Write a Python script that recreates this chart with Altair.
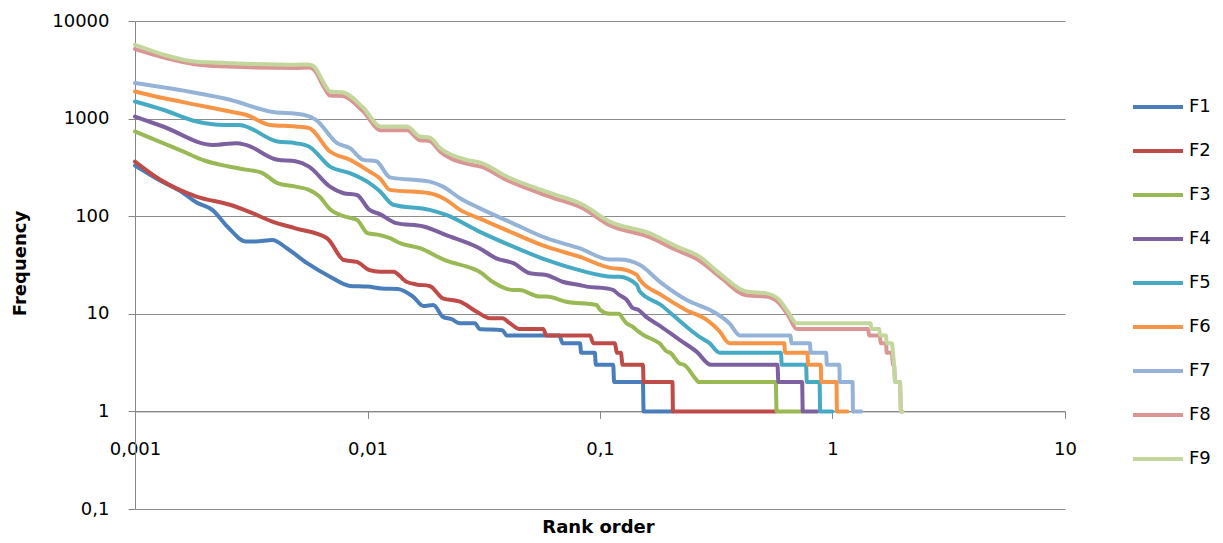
import altair as alt
import pandas as pd

series_names = ["F1", "F2", "F3", "F4", "F5", "F6", "F7", "F8", "F9"]
colors = ["#4A7EBB", "#BE4B48", "#98B954", "#7D60A0", "#46AAC5", "#F69546", "#95B3D7", "#D99694", "#C3D69B"]

f1_x = [0.001, 0.00128, 0.0016, 0.00184, 0.00215, 0.0025, 0.003, 0.0033, 0.0039, 0.0045, 0.0055, 0.0069, 0.0084, 0.01,
        0.0115, 0.0135, 0.0157, 0.0174, 0.0192, 0.0211, 0.023, 0.025, 0.029, 0.0303, 0.038, 0.0397, 0.0668, 0.0691,
        0.082, 0.083, 0.095, 0.096, 0.114, 0.115, 0.153, 0.154, 0.205]
f1_y = [330, 232, 175, 138, 116, 78, 55, 55, 57, 47, 33, 24, 19.3, 19,
        18.2, 18, 15, 12, 12.3, 9.3, 8.8, 8, 8, 7, 6.8, 6, 6, 5,
        5, 4, 4, 3, 3, 2, 2, 1, 1]

f2_x = [0.001, 0.00128, 0.00184, 0.00256, 0.0031, 0.0039, 0.0049, 0.0067, 0.0079, 0.009, 0.0102, 0.0113, 0.0129,
        0.0147, 0.0162, 0.0185, 0.0211, 0.025, 0.0295, 0.0336, 0.038, 0.041, 0.045, 0.057, 0.0588, 0.0906, 0.0936,
        0.116, 0.118, 0.123, 0.125, 0.153, 0.154, 0.205, 0.206, 0.57]
f2_y = [363, 238, 159, 131, 111, 88, 75, 59.5, 35.6, 34, 28, 27, 27,
        21.3, 20, 19.3, 14.4, 13.3, 10.5, 9, 9, 8, 7, 7, 6, 6, 5,
        5, 4, 4, 3, 3, 2, 2, 1, 1]

f3_x = [0.001, 0.00132, 0.00158, 0.002, 0.0025, 0.003, 0.0035, 0.0041, 0.0049, 0.0056, 0.0062, 0.0069, 0.0084, 0.009,
        0.01, 0.0113, 0.0125, 0.0138, 0.0168, 0.0218, 0.0284, 0.0303, 0.0345, 0.0424, 0.045, 0.055, 0.0588, 0.0715,
        0.0967, 0.1, 0.11, 0.121, 0.125, 0.13, 0.138, 0.146, 0.155, 0.17, 0.18, 0.194, 0.2, 0.22, 0.23, 0.26, 0.265,
        0.57, 0.575, 0.74]
f3_y = [738, 560, 470, 370, 325, 300, 280, 218, 201, 186, 160, 118, 96, 92,
        67, 64, 59.5, 53, 47, 35, 29, 27, 21.3, 17.5, 17.5, 15, 15, 13.3,
        12.3, 11, 10, 10, 9, 8, 7.4, 6.6, 6, 5.4, 5, 4.1, 4, 3.1, 3, 2.1, 2,
        2, 1, 1]

f4_x = [0.001, 0.00132, 0.00217, 0.00273, 0.003, 0.0041, 0.0049, 0.0056, 0.0069, 0.0079, 0.009, 0.0102, 0.0113,
        0.0133, 0.0174, 0.0218, 0.0303, 0.0358, 0.0424, 0.05, 0.0588, 0.069, 0.0815, 0.0876, 0.107, 0.114, 0.121,
        0.13, 0.138, 0.146, 0.158, 0.183, 0.22, 0.26, 0.3, 0.58, 0.585, 0.74, 0.745, 0.86]
f4_y = [1050, 830, 538, 560, 538, 378, 365, 322, 201, 172, 165, 116, 105,
        85, 78.5, 64, 47, 37, 33, 26, 25, 21.3, 19.7, 19, 18.2, 17.5, 15.6,
        14, 11.5, 11, 9.3, 7.4, 5.4, 4.1, 3, 3, 2, 2, 1, 1]

f5_x = [0.001, 0.00132, 0.00184, 0.0024, 0.0028, 0.0041, 0.0049, 0.0056, 0.0069, 0.0084, 0.0102, 0.0113, 0.0129,
        0.0185, 0.0218, 0.0303, 0.0424, 0.0588, 0.0815, 0.114, 0.121, 0.144, 0.148, 0.183, 0.206, 0.235, 0.268,
        0.296, 0.327, 0.6, 0.605, 0.77, 0.775, 0.88, 0.885, 1.0]
f5_y = [1497, 1232, 934, 862, 862, 582, 560, 518, 322, 276, 218, 180, 131,
        116, 103, 69.5, 48.7, 35.6, 28, 24, 24, 19.8, 17, 12.3, 9.7, 7.4, 5.8,
        5, 4, 4, 3, 3, 2, 2, 1, 1]

f6_x = [0.001, 0.00132, 0.00184, 0.00256, 0.003, 0.0038, 0.0049, 0.0056, 0.0069, 0.0084, 0.0102, 0.0113, 0.0125,
        0.0185, 0.0218, 0.025, 0.0303, 0.0424, 0.0588, 0.0815, 0.114, 0.121, 0.144, 0.148, 0.183, 0.235, 0.287,
        0.327, 0.36, 0.62, 0.625, 0.78, 0.785, 0.89, 0.895, 1.04, 1.045, 1.16]
f6_y = [1897, 1623, 1383, 1183, 1094, 862, 830, 800, 460, 378, 287, 245, 186,
        172, 147, 116, 95, 67, 48.7, 38.5, 29.2, 29, 25, 22.5, 15.6, 10.9, 8.7,
        6.6, 5, 5, 4, 4, 3, 3, 2, 2, 1, 1]

f7_x = [0.001, 0.00184, 0.00256, 0.0038, 0.0053, 0.006, 0.0074, 0.0084, 0.0096, 0.0109, 0.0125, 0.0185, 0.0211,
        0.025, 0.0303, 0.042, 0.0588, 0.0815, 0.11, 0.121, 0.148, 0.184, 0.235, 0.307, 0.36, 0.4, 0.66, 0.665,
        0.8, 0.805, 0.94, 0.945, 1.07, 1.075, 1.22, 1.225, 1.33]
f7_y = [2312, 1828, 1560, 1183, 1094, 972, 561, 498, 378, 365, 250, 226, 201,
        153, 121, 85, 59.5, 47, 36, 36, 31.8, 20.6, 13.9, 10.5, 8, 6, 6, 5,
        5, 4, 4, 3, 3, 2, 2, 1, 1]

f8_x = [0.001, 0.00216, 0.0049, 0.0056, 0.0059, 0.0065, 0.0069, 0.0078, 0.0096, 0.0114, 0.0148, 0.0168, 0.0185,
        0.0205, 0.0267, 0.031, 0.0397, 0.061, 0.0845, 0.11, 0.163, 0.213, 0.268, 0.327, 0.426, 0.52, 0.59, 0.65,
        0.7, 1.42, 1.44, 1.6, 1.61, 1.7, 1.71, 1.8, 1.82, 1.84, 1.86, 1.95, 1.97, 2.0]
f8_y = [5160, 3450, 3300, 3330, 3150, 2100, 1720, 1700, 1180, 760, 760, 600, 590,
        460, 345, 320, 235, 158, 120, 81, 61, 45, 35, 24, 15.5, 15, 12.8, 9.3,
        7, 7, 6, 6, 5, 5, 4, 4, 3, 3, 2, 2, 1, 1]

f9_x = [0.001, 0.0019, 0.00216, 0.0049, 0.0056, 0.0059, 0.0065, 0.0069, 0.0078, 0.0096, 0.0114, 0.0148, 0.0168,
        0.0185, 0.0205, 0.0267, 0.031, 0.0397, 0.061, 0.0845, 0.11, 0.163, 0.213, 0.268, 0.327, 0.426, 0.52, 0.59,
        0.65, 0.7, 1.46, 1.47, 1.59, 1.6, 1.7, 1.71, 1.8, 1.82, 1.84, 1.86, 1.95, 1.97, 2.0]
f9_y = [5710, 3800, 3760, 3565, 3590, 3400, 2300, 1897, 1860, 1290, 830, 830, 655,
        640, 500, 378, 350, 255, 173, 131, 88, 67, 49, 38.5, 26, 16.9, 16.2, 13.9,
        10.1, 8, 8, 7, 7, 6, 6, 5, 5, 4, 3, 2, 2, 1, 1]

x_ticks = [0.001, 0.01, 0.1, 1, 10]
y_ticks = [0.1, 1, 10, 100, 1000, 10000]

all_x = [f1_x, f2_x, f3_x, f4_x, f5_x, f6_x, f7_x, f8_x, f9_x]
all_y = [f1_y, f2_y, f3_y, f4_y, f5_y, f6_y, f7_y, f8_y, f9_y]

rows = []
for name, xs, ys in zip(series_names, all_x, all_y):
    for i, (xv, yv) in enumerate(zip(xs, ys)):
        rows.append({"series": name, "rank": xv, "freq": yv, "i": i})
df = pd.DataFrame(rows)

FONT = "DejaVu Sans"
W, H = 930, 488

chart = alt.Chart(df).mark_line(strokeWidth=4, strokeJoin="round", strokeCap="round",
                                interpolate="monotone").encode(
    x=alt.X("rank:Q",
            scale=alt.Scale(type="log", domain=[0.001, 10], nice=False),
            axis=alt.Axis(values=x_ticks, grid=False, offset=-H / 5,
                          labelExpr="replace(toString(datum.value), '.', ',')",
                          labelFlush=False, labelOverlap=False,
                          tickSize=7, tickColor="#868686", domainColor="#868686",
                          labelPadding=31, labelBaseline="middle",
                          labelFont=FONT, labelFontSize=18, labelColor="#000000",
                          title="Rank order", titleFont=FONT, titleFontSize=18, titleFontWeight="bold",
                          titleColor="#000000", titleX=W / 2 - 2, titleY=116, titleBaseline="middle",
                          titleAlign="center")),
    y=alt.Y("freq:Q",
            scale=alt.Scale(type="log", domain=[0.1, 10000], nice=False),
            axis=alt.Axis(values=y_ticks, grid=True, gridColor="#8c8c8c", gridWidth=1,
                          labelExpr="replace(toString(datum.value), '.', ',')",
                          labelFlush=False, labelOverlap=False,
                          tickSize=7, tickColor="#868686", domainColor="#868686",
                          labelPadding=19, labelBaseline="middle",
                          labelFont=FONT, labelFontSize=18, labelColor="#000000",
                          title="Frequency", titleFont=FONT, titleFontSize=18, titleFontWeight="bold",
                          titleColor="#000000", titleX=-115, titleY=242, titleBaseline="middle",
                          titleAlign="center", titleAngle=270)),
    color=alt.Color("series:N", scale=alt.Scale(domain=series_names, range=colors),
                    legend=alt.Legend(title=None, orient="none", legendX=996, legendY=64,
                                      symbolType="stroke", symbolSize=2500, symbolStrokeWidth=4,
                                      clipHeight=44, rowPadding=0, padding=0, labelOffset=4,
                                      labelFont=FONT, labelFontSize=18, labelColor="#000000")),
    order=alt.Order("i:Q"),
).properties(
    width=W, height=H,
    autosize=alt.AutoSizeParams(type="none"),
    padding={"left": 127, "top": 13, "right": 150, "bottom": 30},
).configure_view(stroke=None)

chart.save("out.html", embed_options={"renderer": "svg", "actions": False})
